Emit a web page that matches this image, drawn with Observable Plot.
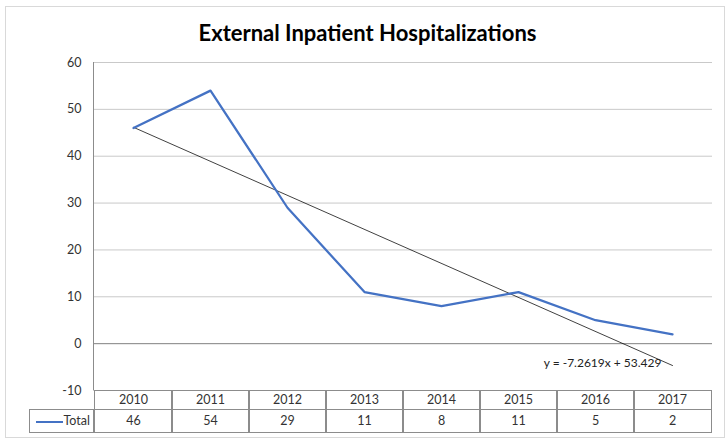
<!DOCTYPE html>
<html><head><meta charset="utf-8">
<script src="https://cdn.jsdelivr.net/npm/d3@7"></script>
<script src="https://cdn.jsdelivr.net/npm/@observablehq/plot@0.6"></script>
<style>
body{margin:0;background:#fff;font-family:Lato,"Open Sans",sans-serif;}
#frame{position:absolute;left:5px;top:6px;width:720px;height:432px;border:1px solid #d9d9d9;box-sizing:border-box;}
#title{position:absolute;left:0;top:20px;width:735px;text-align:center;font-weight:bold;font-size:22px;line-height:26px;color:#000;}
#chart{position:absolute;left:0;top:0;}
.cell{position:absolute;box-sizing:border-box;text-align:center;font-size:12.5px;color:#333;}
</style></head><body>
<div id="frame"></div>
<div id="title"></div>
<div id="chart"></div>
<div id="table"></div>
<script>
const chartTitle = "External Inpatient Hospitalizations";
const years = ["2010","2011","2012","2013","2014","2015","2016","2017"];
const totals = [46,54,29,11,8,11,5,2];
const yTicks = [-10,0,10,20,30,40,50,60];
const seriesName = "Total";
const trendSlope = -7.2619;
const trendIntercept = 53.429;
const trendLabel = "y = -7.2619x + 53.429";

document.getElementById("title").textContent = chartTitle;

const data = years.map((year, i) => ({year, total: totals[i]}));
const trend = [
  {year: years[0], v: trendSlope * 1 + trendIntercept},
  {year: years[years.length - 1], v: trendSlope * years.length + trendIntercept}
];

const blue = "#4472C4";
const axisGray = "#8c8c8c";

const plot = Plot.plot({
  width: 728,
  height: 405,
  marginLeft: 93,
  marginRight: 16,
  marginTop: 62,
  marginBottom: 15,
  style: {fontFamily: "Lato, 'Open Sans', sans-serif", fontSize: "12.5px", color: "#333", background: "transparent", overflow: "visible"},
  x: {type: "point", domain: years, padding: 0.5, axis: null},
  y: {domain: [-10, 60], axis: null},
  marks: [
    Plot.gridY(yTicks, {stroke: "#c9c9c9", strokeOpacity: 1}),
    Plot.ruleY([0], {stroke: axisGray}),
    Plot.axisY({ticks: yTicks, tickSize: 0, tickPadding: 12, fontSize: 12.5, fill: "#333", tickFormat: d => String(d)}),
    Plot.line(trend, {x: "year", y: "v", stroke: "#000", strokeWidth: 0.75}),
    Plot.line(data, {x: "year", y: "total", stroke: blue, strokeWidth: 2.25}),
    Plot.text([trendLabel], {frameAnchor: "bottom-right", textAnchor: "end", dx: -51, dy: -24, fontSize: 12, fill: "#222"})
  ]
});
document.getElementById("chart").appendChild(plot);

const xs = plot.scale("x");
const ys = plot.scale("y");
const [x0, x1] = xs.range;
const step = (x1 - x0) / years.length;
const yTop = ys.apply(60), yBot = ys.apply(-10);

// left axis line
d3.select(plot).append("line")
  .attr("x1", x0 + 0.5).attr("x2", x0 + 0.5)
  .attr("y1", yTop).attr("y2", yBot)
  .attr("stroke", axisGray);

// data table
const table = d3.select("#table");
const r1 = yBot, h1 = 20, r2 = r1 + h1 - 1, h2 = 24;
const border = "1px solid " + axisGray;
years.forEach((year, i) => {
  const left = xs.apply(year) - step / 2;
  table.append("div").attr("class", "cell")
    .style("left", left + "px").style("top", r1 + "px")
    .style("width", (step + 1) + "px").style("height", h1 + "px")
    .style("border", border).style("line-height", (h1 - 2) + "px")
    .text(year);
  table.append("div").attr("class", "cell")
    .style("left", left + "px").style("top", r2 + "px")
    .style("width", (step + 1) + "px").style("height", h2 + "px")
    .style("border", border).style("line-height", (h2 - 2) + "px")
    .text(totals[i]);
});
const legendCell = table.append("div").attr("class", "cell")
  .style("left", "29px").style("top", r2 + "px")
  .style("width", (x0 - 29 + 1) + "px").style("height", h2 + "px")
  .style("border", border).style("line-height", (h2 - 2) + "px")
  .style("text-align", "right").style("padding-right", "3px");
legendCell.append("span")
  .style("display", "inline-block").style("width", "27px").style("height", "2px")
  .style("background", blue).style("vertical-align", "middle").style("margin-right", "1px");
legendCell.append("span").text(seriesName);
</script>
</body></html>
